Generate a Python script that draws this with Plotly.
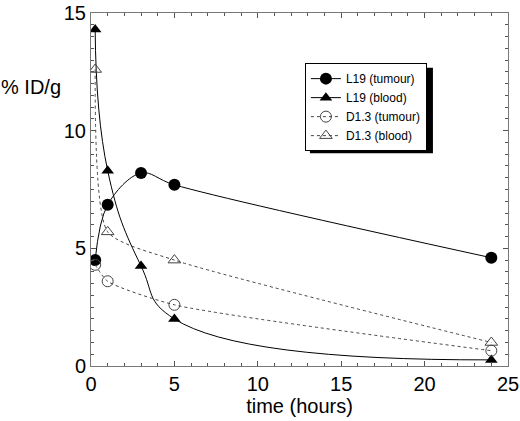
import plotly.graph_objs as go

# values
time_l19 = [0.25, 1, 3, 5, 24]
l19_tumour = [4.5, 6.85, 8.2, 7.7, 4.6]
l19_blood = [14.3, 8.3, 4.25, 2.0, 0.26]

time_d13 = [0.25, 1, 5, 24]
d13_tumour = [4.3, 3.6, 2.6, 0.65]
d13_blood = [12.6, 5.7, 4.5, 1.0]

x_ticks = [0, 5, 10, 15, 20, 25]
y_ticks = [0, 5, 10, 15]

FONT = "Liberation Sans, Arial"

fig = go.Figure()

fig.add_trace(go.Scatter(
    x=time_l19, y=l19_tumour, name="L19 (tumour)", mode="lines+markers",
    line=dict(color="black", width=1, shape="spline", smoothing=1.0),
    marker=dict(symbol="circle", size=12, color="black"),
))
fig.add_trace(go.Scatter(
    x=time_l19, y=l19_blood, name="L19 (blood)", mode="lines+markers",
    line=dict(color="black", width=1, shape="spline", smoothing=1.3),
    marker=dict(symbol="triangle-up", size=11, color="black"),
))
fig.add_trace(go.Scatter(
    x=time_d13, y=d13_tumour, name="D1.3 (tumour)", mode="lines+markers",
    line=dict(color="#444", width=1, dash="3px,3px", shape="spline", smoothing=0.6),
    marker=dict(symbol="circle-open", size=11, color="#444", line=dict(width=1)),
))
fig.add_trace(go.Scatter(
    x=time_d13, y=d13_blood, name="D1.3 (blood)", mode="lines+markers",
    line=dict(color="#444", width=1, dash="3px,3px", shape="spline", smoothing=0.6),
    marker=dict(symbol="triangle-up-open", size=11, color="#444", line=dict(width=1)),
))

axis_style = dict(
    showgrid=False, zeroline=False, showline=True, linecolor="#777", linewidth=1,
    mirror="allticks", ticks="inside", ticklen=5, tickcolor="#555",
    automargin=False,
    tickfont=dict(family=FONT, size=20, color="black"),
)

fig.update_xaxes(
    range=[0, 25], tickvals=x_ticks,
    minor=dict(dtick=1, ticks="inside", ticklen=3, tickcolor="#555"),
    title=dict(text="time (hours)", font=dict(family=FONT, size=20, color="black"), standoff=0),
    **axis_style,
)
fig.update_yaxes(
    range=[0, 15], tickvals=y_ticks,
    minor=dict(dtick=0.5, ticks="inside", ticklen=3, tickcolor="#555"),
    **axis_style,
)

# y title is written horizontally at the top left
fig.add_annotation(
    text="% ID/g", xref="paper", yref="paper", x=-0.22, y=0.79,
    xanchor="left", yanchor="middle", showarrow=False,
    font=dict(family=FONT, size=20, color="black"),
)

# drop shadow behind the legend box
fig.add_shape(
    type="rect", xref="paper", yref="paper", x0=0.525, x1=0.82, y0=0.603, y1=0.845,
    fillcolor="black", line=dict(width=0), layer="below",
)

fig.update_layout(
    width=520, height=421,
    margin=dict(l=91, r=12, t=13, b=55),
    plot_bgcolor="white", paper_bgcolor="white",
    showlegend=True,
    legend=dict(
        x=0.513, y=0.858, xanchor="left", yanchor="top",
        bgcolor="white", bordercolor="black", borderwidth=1,
        font=dict(family=FONT, size=12, color="black"),
        tracegroupgap=0, itemwidth=30,
    ),
)

# drop the page's default body margin so the figure sits at the top-left corner
fig.write_html("out.html", config={"displayModeBar": False},
               post_script="document.body.style.margin='0';")
